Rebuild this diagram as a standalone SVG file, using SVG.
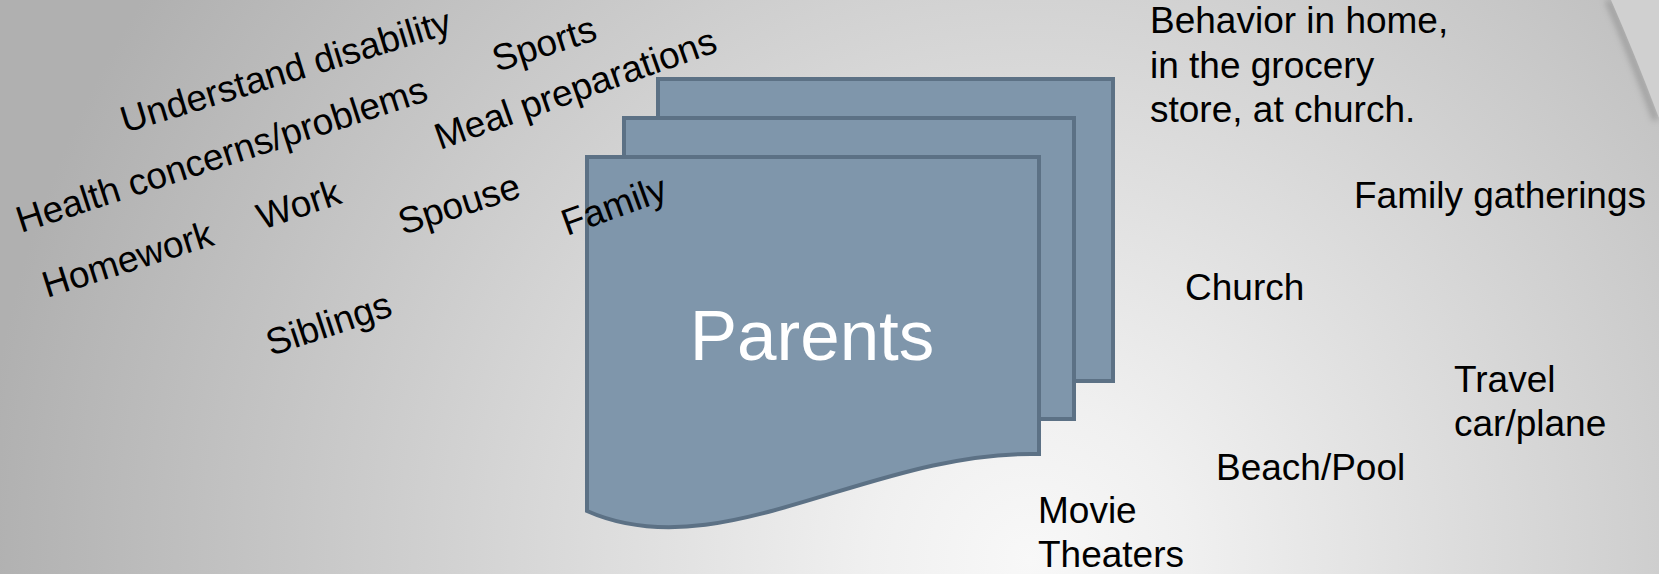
<svg xmlns="http://www.w3.org/2000/svg" width="1659" height="574" viewBox="0 0 1659 574">
<defs>
<radialGradient id="bg" gradientUnits="userSpaceOnUse" cx="1030" cy="560" r="1050">
<stop offset="0" stop-color="#f8f8f8"/>
<stop offset="0.15" stop-color="#f0f0f0"/>
<stop offset="0.6" stop-color="#cecece"/>
<stop offset="1" stop-color="#b0b0b0"/>
</radialGradient>
<filter id="blur" x="-50%" y="-50%" width="200%" height="200%"><feGaussianBlur stdDeviation="3"/></filter>
<style>
.card{fill:#7f96ab;stroke:#5c7185;stroke-width:4;stroke-linejoin:miter}
.t{font-family:"Liberation Sans",Arial,sans-serif;font-size:37px;fill:#000}
.big{font-family:"Liberation Sans",Arial,sans-serif;font-size:71px;fill:#ffffff;text-anchor:middle}
</style>
</defs>
<rect x="0" y="0" width="1659" height="574" fill="url(#bg)"/>
<g id="corner-arc">
<path d="M1608,0 Q1631,52 1656,120" fill="none" stroke="#8a8a8a" stroke-width="6" opacity="0.7" filter="url(#blur)"/>
<path d="M1611,0 Q1634,52 1659,118 L1659,0 Z" fill="#d0d0d0"/>
</g>
<g id="parents">
<rect class="card" x="658" y="79" width="455" height="302"/>
<rect class="card" x="624" y="118" width="450" height="301"/>
<path class="card" d="M587,157 H1039 V454 C870,450 720,570 587,511 Z"/>
<text class="big" x="812" y="360">Parents</text>
</g>
<g id="connectors"/>
<g id="left-topics">
<text id="understand" class="t" x="125" y="133" transform="rotate(-17 125 133)">Understand disability</text>
<text id="sports" class="t" x="497" y="72" transform="rotate(-17.7 497 72)">Sports</text>
<text id="health" class="t" x="21" y="233" transform="rotate(-18 21 233)">Health concerns/problems</text>
<text id="meal" class="t" x="440" y="150" transform="rotate(-19.5 440 150)">Meal preparations</text>
<text id="homework" class="t" x="47" y="298" transform="rotate(-17.6 47 298)">Homework</text>
<text id="work" class="t" x="262" y="230" transform="rotate(-18.5 262 230)">Work</text>
<text id="spouse" class="t" x="403" y="235" transform="rotate(-17.7 403 235)">Spouse</text>
<text id="family" class="t" x="567" y="236" transform="rotate(-20 567 236)">Family</text>
<text id="siblings" class="t" x="271" y="356" transform="rotate(-18.3 271 356)">Siblings</text>
</g>
<g id="right-topics">
<text id="behavior" class="t" x="1150" y="33"><tspan x="1150" y="33">Behavior in home,</tspan><tspan x="1150" y="78">in the grocery</tspan><tspan x="1150" y="122">store, at church.</tspan></text>
<text id="gatherings" class="t" x="1354" y="208">Family gatherings</text>
<text id="church" class="t" x="1185" y="300">Church</text>
<text id="travel" class="t" x="1454" y="392"><tspan x="1454" y="392">Travel</tspan><tspan x="1454" y="436">car/plane</tspan></text>
<text id="beach" class="t" x="1216" y="480">Beach/Pool</text>
<text id="movie" class="t" x="1038" y="523"><tspan x="1038" y="523">Movie</tspan><tspan x="1038" y="567">Theaters</tspan></text>
</g>
</svg>
